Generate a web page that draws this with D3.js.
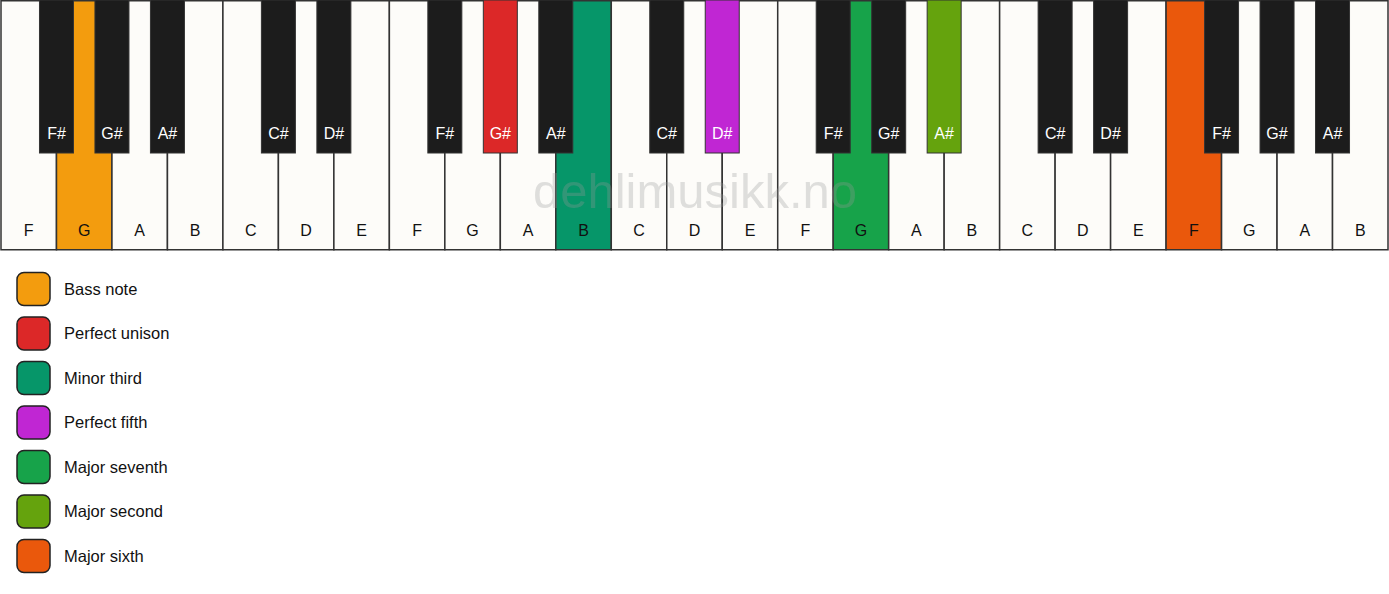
<!DOCTYPE html>
<html>
<head>
<meta charset="utf-8">
<script src="https://cdn.jsdelivr.net/npm/d3@7"></script>
<style>
  body { margin: 0; background: #fff; }
  text { font-family: "Liberation Sans", Arial, sans-serif; }
</style>
</head>
<body>
<svg id="teclado" width="1389" height="594"></svg>
<script>
// white keys, left to right
const whiteKeys = ["F","G","A","B","C","D","E","F","G","A","B","C","D","E","F","G","A","B","C","D","E","F","G","A","B"];
// black key sits right after these white notes
const sharpAfter = {"F": "F#", "G": "G#", "A": "A#", "C": "C#", "D": "D#"};

const intervals = ["Bass note", "Perfect unison", "Minor third", "Perfect fifth", "Major seventh", "Major second", "Major sixth"];
const intervalColors = ["#f39c0e", "#dc2828", "#069669", "#c026d3", "#17a34a", "#65a30d", "#ea580c"];

// highlighted keys: kind, index of white key (for black: white key to its left), interval
const highlights = [
  {kind: "white", index: 1, interval: "Bass note"},
  {kind: "black", index: 8, interval: "Perfect unison"},
  {kind: "white", index: 10, interval: "Minor third"},
  {kind: "black", index: 12, interval: "Perfect fifth"},
  {kind: "white", index: 15, interval: "Major seventh"},
  {kind: "black", index: 16, interval: "Major second"},
  {kind: "white", index: 21, interval: "Major sixth"}
];

let svg = d3.select("#teclado");
const keyHeight = 249, blackHeight = 153, blackWidth = 34;

let color = d3.scaleOrdinal().domain(intervals).range(intervalColors);

let x = d3.scaleBand()
  .domain(d3.range(whiteKeys.length))
  .range([1, 1388])
  .padding(0);
const bw = x.bandwidth();

let corDe = (kind, i) => {
  let h = highlights.find(d => d.kind == kind && d.index == i);
  return h ? color(h.interval) : null;
};

let whites = whiteKeys.map((n, i) => ({note: n, i: i}));
let blacks = whiteKeys
  .map((n, i) => ({note: sharpAfter[n], i: i}))
  .filter(d => d.note && d.i < whiteKeys.length - 1);

// white keys
let wg = svg.append("g").selectAll("g").data(whites).enter().append("g");
wg.append("rect")
  .attr("x", d => x(d.i))
  .attr("y", 0.75)
  .attr("width", bw)
  .attr("height", keyHeight)
  .attr("fill", d => corDe("white", d.i) || "#fdfcf9")
  .attr("stroke", "#333")
  .attr("stroke-width", 1.5);
wg.append("text")
  .attr("x", d => x(d.i) + bw / 2)
  .attr("y", 230)
  .attr("dy", "0.35em")
  .attr("text-anchor", "middle")
  .attr("font-size", 16)
  .attr("fill", "#111")
  .text(d => d.note);

// black keys
let bg = svg.append("g").selectAll("g").data(blacks).enter().append("g");
bg.append("rect")
  .attr("x", d => x(d.i) + bw - blackWidth / 2)
  .attr("y", 0)
  .attr("width", blackWidth)
  .attr("height", blackHeight)
  .attr("fill", d => corDe("black", d.i) || "#1c1c1c")
  .attr("stroke", "#333")
  .attr("stroke-width", 1);
bg.append("text")
  .attr("x", d => x(d.i) + bw)
  .attr("y", 133)
  .attr("dy", "0.35em")
  .attr("text-anchor", "middle")
  .attr("font-size", 16)
  .attr("fill", "#fff")
  .text(d => d.note);

// watermark
svg.append("text")
  .attr("x", 695)
  .attr("y", 208)
  .attr("text-anchor", "middle")
  .attr("font-size", 49)
  .attr("fill", "#999")
  .attr("fill-opacity", 0.3)
  .text("dehlimusikk.no");

// legend
let y = d3.scalePoint().domain(intervals).range([289, 556]);
let legend = svg.append("g").selectAll("g").data(intervals).enter().append("g")
  .attr("transform", d => "translate(0," + y(d) + ")");
legend.append("rect")
  .attr("x", 17)
  .attr("y", -16.5)
  .attr("width", 33)
  .attr("height", 33)
  .attr("rx", 7)
  .attr("fill", d => color(d))
  .attr("stroke", "#222")
  .attr("stroke-width", 1.5);
legend.append("text")
  .attr("x", 64)
  .attr("y", 0)
  .attr("dy", "0.35em")
  .attr("font-size", 16.5)
  .attr("fill", "#111")
  .text(d => d);
</script>
</body>
</html>
